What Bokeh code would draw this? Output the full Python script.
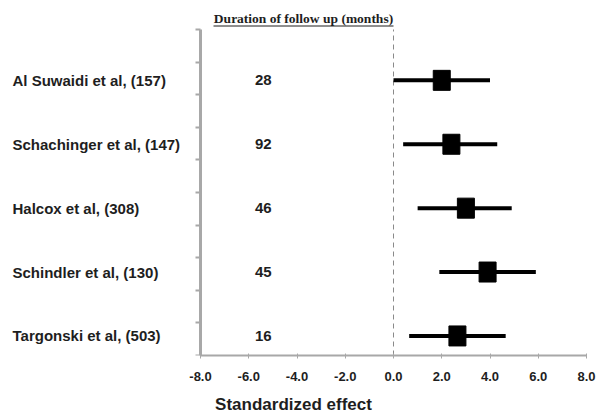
from bokeh.plotting import figure
from bokeh.models import FixedTicker, NumeralTickFormatter, ColumnDataSource
from bokeh.core.properties import value
from bokeh.embed import file_html
from bokeh.resources import INLINE

# ---- data ----
studies = ["Al Suwaidi et al, (157)", "Schachinger et al, (147)", "Halcox et al, (308)",
           "Schindler et al, (130)", "Targonski et al, (503)"]
followup = ["28", "92", "46", "45", "16"]
effect = [2.0, 2.4, 3.0, 3.9, 2.65]
ci_low = [0.0, 0.4, 1.0, 1.9, 0.65]
ci_high = [4.0, 4.3, 4.9, 5.9, 4.65]
x_ticks = [-8, -6, -4, -2, 0, 2, 4, 6, 8]
y_ticks = [i * 0.5 for i in range(11)]
header = "Duration of follow up (months)"
x_title = "Standardized effect"

# ---- layout ----
W, H = 606, 417
RIGHT, BOTTOM = 20, 62
AX_LEFT_PX, AX_TOP_PX = 200, 29       # position of the plot box inside the figure
XMIN, XMAX, YMIN, YMAX = -8, 8, 0, 5
px_x = (W - RIGHT - AX_LEFT_PX) / (XMAX - XMIN)
px_y = (H - BOTTOM - AX_TOP_PX) / (YMAX - YMIN)

row_y = [4.22 - 0.98 * i for i in range(len(studies))]
dur_x = -5.4
label_x = XMIN - (AX_LEFT_PX - 12) / px_x
head_x = XMIN + 103 / px_x
head_y = YMAX + 11 / px_y
uline_y = YMAX + 3.5 / px_y
uline_x0, uline_x1 = XMIN + 13 / px_x, XMIN + 193 / px_x

src = ColumnDataSource(dict(study=studies, dur=followup, eff=effect, lo=ci_low,
                            hi=ci_high, y=row_y, dx=[dur_x] * len(studies),
                            lx=[label_x] * len(studies)))

p = figure(width=W, height=H,
           x_range=(XMIN - AX_LEFT_PX / px_x, XMAX),
           y_range=(YMIN, YMAX + AX_TOP_PX / px_y),
           output_backend="svg", toolbar_location=None,
           min_border_left=0, min_border_right=RIGHT,
           min_border_top=0, min_border_bottom=BOTTOM)
p.outline_line_color = None
p.grid.visible = False
p.background_fill_color = "white"
p.border_fill_color = "white"

TXT = "#1e1e1e"
AXC = "#a8a8a8"

# zero line
p.segment(x0=[0], x1=[0], y0=[YMIN], y1=[YMAX], line_color="#8a8a8a",
          line_dash="5 4", line_width=1)

# CIs and point estimates
p.segment(x0="lo", x1="hi", y0="y", y1="y", source=src, line_color="black",
          line_width=4)
p.rect(x="eff", y="y", width=17, height=20, width_units="screen",
       height_units="screen", source=src, fill_color="black", line_color="black")

# durations
p.text(x="dx", y="y", text="dur", source=src, text_align="center",
       text_baseline="middle", text_font=value("Liberation Sans"),
       text_font_style="bold", text_font_size="15px", text_color=TXT)

# study labels
p.text(x="lx", y="y", text="study", source=src, text_align="left",
       text_baseline="middle", text_font=value("Liberation Sans"),
       text_font_style="bold", text_font_size="15px", text_color=TXT)

# header with underline
p.text(x=[head_x], y=[head_y], text=[header], text_align="center",
       text_baseline="middle", text_font=value("Liberation Serif"),
       text_font_style="bold", text_font_size="13.5px", text_color=TXT)
p.segment(x0=[uline_x0], x1=[uline_x1], y0=[uline_y], y1=[uline_y],
          line_color=TXT, line_width=1)

# axes
ax = p.xaxis[0]
ax.bounds = (XMIN, XMAX)
ax.ticker = FixedTicker(ticks=x_ticks)
ax.formatter = NumeralTickFormatter(format="0.0")
ax.axis_line_color = AXC
ax.axis_line_width = 2
ax.major_tick_line_color = AXC
ax.major_tick_in = 2
ax.major_tick_out = 3
ax.minor_tick_line_color = None
ax.major_label_standoff = 13
ax.major_label_text_font = "Liberation Sans"
ax.major_label_text_font_style = "bold"
ax.major_label_text_font_size = "13px"
ax.major_label_text_color = TXT
ax.axis_label = x_title
ax.axis_label_standoff = 11
ax.axis_label_text_font = "Liberation Sans"
ax.axis_label_text_font_style = "bold"
ax.axis_label_text_font_size = "17px"
ax.axis_label_text_color = TXT

ay = p.yaxis[0]
ay.fixed_location = XMIN
ay.bounds = (YMIN, YMAX)
ay.ticker = FixedTicker(ticks=y_ticks)
ay.major_label_overrides = {t: "" for t in y_ticks}
ay.axis_line_color = AXC
ay.axis_line_width = 3
ay.major_tick_line_color = AXC
ay.major_tick_line_width = 2
ay.major_tick_in = 0
ay.major_tick_out = 5
ay.minor_tick_line_color = None

open("out.html", "w").write(file_html(p, INLINE))
